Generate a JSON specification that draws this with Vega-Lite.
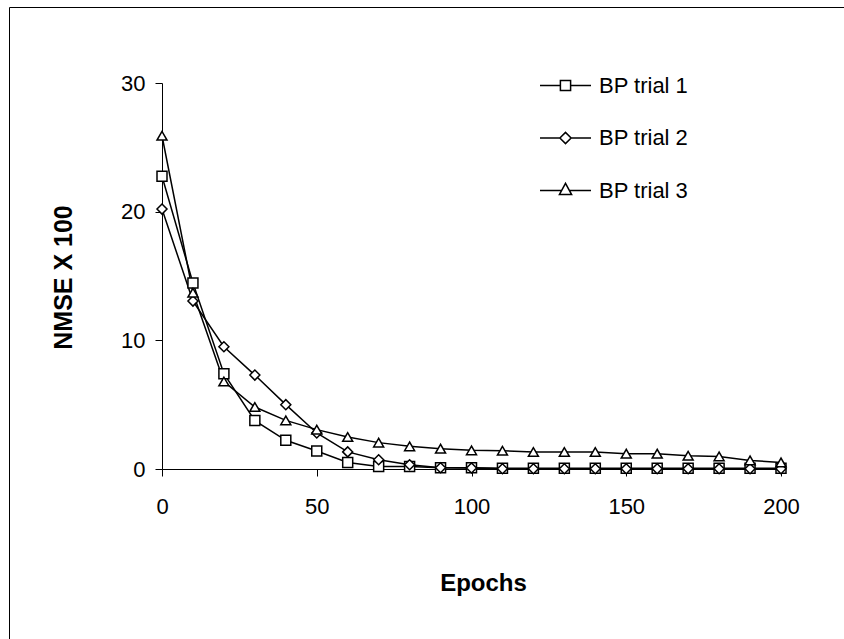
{
  "$schema": "https://vega.github.io/schema/vega-lite/v6.json",
  "width": 837,
  "height": 634,
  "autosize": {"type": "none"},
  "padding": {"left": 9, "top": 7, "right": -2, "bottom": -2},
  "background": "white",
  "config": {
    "font": "Liberation Sans",
    "view": {"stroke": "black", "strokeWidth": 1},
    "axis": {"grid": false, "domainColor": "black", "tickColor": "black", "labelColor": "black", "titleColor": "black", "domainWidth": 1, "tickWidth": 1, "labelFont": "Liberation Sans", "titleFont": "Liberation Sans"}
  },
  "data": {
    "values": [
      {"trial": "BP trial 1", "epoch": 0, "nmse": 22.75},
      {"trial": "BP trial 1", "epoch": 10, "nmse": 14.45},
      {"trial": "BP trial 1", "epoch": 20, "nmse": 7.4},
      {"trial": "BP trial 1", "epoch": 30, "nmse": 3.76},
      {"trial": "BP trial 1", "epoch": 40, "nmse": 2.23},
      {"trial": "BP trial 1", "epoch": 50, "nmse": 1.4},
      {"trial": "BP trial 1", "epoch": 60, "nmse": 0.51},
      {"trial": "BP trial 1", "epoch": 70, "nmse": 0.2},
      {"trial": "BP trial 1", "epoch": 80, "nmse": 0.2},
      {"trial": "BP trial 1", "epoch": 90, "nmse": 0.1},
      {"trial": "BP trial 1", "epoch": 100, "nmse": 0.1},
      {"trial": "BP trial 1", "epoch": 110, "nmse": 0.06},
      {"trial": "BP trial 1", "epoch": 120, "nmse": 0.06},
      {"trial": "BP trial 1", "epoch": 130, "nmse": 0.06},
      {"trial": "BP trial 1", "epoch": 140, "nmse": 0.06},
      {"trial": "BP trial 1", "epoch": 150, "nmse": 0.06},
      {"trial": "BP trial 1", "epoch": 160, "nmse": 0.06},
      {"trial": "BP trial 1", "epoch": 170, "nmse": 0.06},
      {"trial": "BP trial 1", "epoch": 180, "nmse": 0.06},
      {"trial": "BP trial 1", "epoch": 190, "nmse": 0.06},
      {"trial": "BP trial 1", "epoch": 200, "nmse": 0.06},
      {"trial": "BP trial 2", "epoch": 0, "nmse": 20.2},
      {"trial": "BP trial 2", "epoch": 10, "nmse": 13.05},
      {"trial": "BP trial 2", "epoch": 20, "nmse": 9.5},
      {"trial": "BP trial 2", "epoch": 30, "nmse": 7.3},
      {"trial": "BP trial 2", "epoch": 40, "nmse": 5.0},
      {"trial": "BP trial 2", "epoch": 50, "nmse": 2.8},
      {"trial": "BP trial 2", "epoch": 60, "nmse": 1.33},
      {"trial": "BP trial 2", "epoch": 70, "nmse": 0.72},
      {"trial": "BP trial 2", "epoch": 80, "nmse": 0.33},
      {"trial": "BP trial 2", "epoch": 90, "nmse": 0.1},
      {"trial": "BP trial 2", "epoch": 100, "nmse": 0.08},
      {"trial": "BP trial 2", "epoch": 110, "nmse": 0.02},
      {"trial": "BP trial 2", "epoch": 120, "nmse": 0.02},
      {"trial": "BP trial 2", "epoch": 130, "nmse": 0.02},
      {"trial": "BP trial 2", "epoch": 140, "nmse": 0.02},
      {"trial": "BP trial 2", "epoch": 150, "nmse": 0.02},
      {"trial": "BP trial 2", "epoch": 160, "nmse": 0.02},
      {"trial": "BP trial 2", "epoch": 170, "nmse": 0.02},
      {"trial": "BP trial 2", "epoch": 180, "nmse": 0.02},
      {"trial": "BP trial 2", "epoch": 190, "nmse": 0.02},
      {"trial": "BP trial 2", "epoch": 200, "nmse": 0.02},
      {"trial": "BP trial 3", "epoch": 0, "nmse": 25.9},
      {"trial": "BP trial 3", "epoch": 10, "nmse": 13.7},
      {"trial": "BP trial 3", "epoch": 20, "nmse": 6.8},
      {"trial": "BP trial 3", "epoch": 30, "nmse": 4.82},
      {"trial": "BP trial 3", "epoch": 40, "nmse": 3.78},
      {"trial": "BP trial 3", "epoch": 50, "nmse": 3.06},
      {"trial": "BP trial 3", "epoch": 60, "nmse": 2.49},
      {"trial": "BP trial 3", "epoch": 70, "nmse": 2.05},
      {"trial": "BP trial 3", "epoch": 80, "nmse": 1.76},
      {"trial": "BP trial 3", "epoch": 90, "nmse": 1.58},
      {"trial": "BP trial 3", "epoch": 100, "nmse": 1.45},
      {"trial": "BP trial 3", "epoch": 110, "nmse": 1.42},
      {"trial": "BP trial 3", "epoch": 120, "nmse": 1.32},
      {"trial": "BP trial 3", "epoch": 130, "nmse": 1.32},
      {"trial": "BP trial 3", "epoch": 140, "nmse": 1.32},
      {"trial": "BP trial 3", "epoch": 150, "nmse": 1.19},
      {"trial": "BP trial 3", "epoch": 160, "nmse": 1.19},
      {"trial": "BP trial 3", "epoch": 170, "nmse": 1.03},
      {"trial": "BP trial 3", "epoch": 180, "nmse": 0.98},
      {"trial": "BP trial 3", "epoch": 190, "nmse": 0.67},
      {"trial": "BP trial 3", "epoch": 200, "nmse": 0.51}
    ]
  },
  "encoding": {
    "x": {
      "field": "epoch",
      "type": "quantitative",
      "scale": {"domain": [0, 200], "range": [153, 772], "nice": false, "zero": false},
      "axis": {
        "orient": "bottom",
        "offset": -172,
        "values": [0, 50, 100, 150, 200],
        "tickSize": 7,
        "labelPadding": 20,
        "labelFontSize": 22,
        "labelFlush": false,
        "title": "Epochs",
        "titleFontSize": 24,
        "titleFontWeight": "bold",
        "titleX": 474,
        "titleY": 114,
        "titleBaseline": "middle",
        "titleAlign": "center"
      }
    },
    "y": {
      "field": "nmse",
      "type": "quantitative",
      "scale": {"domain": [0, 30], "range": [462, 76], "nice": false, "zero": false},
      "axis": {
        "orient": "left",
        "offset": -153,
        "values": [0, 10, 20, 30],
        "tickSize": 7,
        "labelPadding": 10,
        "labelFontSize": 22,
        "labelFlush": false,
        "title": "NMSE X 100",
        "titleFontSize": 25,
        "titleFontWeight": "bold",
        "titleAngle": -90,
        "titleX": -99,
        "titleY": 270,
        "titleBaseline": "middle",
        "titleAlign": "center"
      }
    }
  },
  "layer": [
    {
      "mark": {"type": "line", "color": "black", "strokeWidth": 1.5},
      "encoding": {"detail": {"field": "trial", "type": "nominal"}}
    },
    {
      "mark": {"type": "point", "filled": false, "fill": "white", "fillOpacity": 1, "stroke": "black", "strokeWidth": 1.5, "size": 100, "opacity": 1},
      "encoding": {
        "shape": {
          "field": "trial",
          "type": "nominal",
          "scale": {"domain": ["BP trial 1", "BP trial 2", "BP trial 3"], "range": ["square", "diamond", "triangle-up"]},
          "legend": null
        }
      }
    },
    {
      "transform": [{"filter": "datum.epoch < 0"}],
      "mark": {"type": "point", "filled": false, "stroke": "black", "strokeWidth": 1.5, "size": 2601},
      "encoding": {
        "shape": {
          "field": "trial",
          "type": "nominal",
          "scale": {
            "domain": ["BP trial 1", "BP trial 2", "BP trial 3"],
            "range": [
              "M-1,0H-0.2M0.2,0H1M-0.2,-0.2H0.2V0.2H-0.2Z",
              "M-1,0H-0.22M0.22,0H1M-0.22,0L0,-0.22L0.22,0L0,0.22Z",
              "M-1,0H-0.153M0.153,0H1M-0.24,0.16L0,-0.28L0.24,0.16Z"
            ]
          },
          "legend": {
            "orient": "none",
            "legendX": 530,
            "legendY": 52,
            "title": null,
            "padding": 0,
            "labelFontSize": 22,
            "labelFont": "Liberation Sans",
            "labelColor": "black",
            "labelOffset": 7,
            "symbolSize": 2601,
            "symbolStrokeWidth": 1.5,
            "symbolStrokeColor": "black",
            "symbolFillColor": "white",
            "symbolOpacity": 1,
            "rowPadding": 14.5
          }
        }
      }
    }
  ],
  "resolve": {"scale": {"shape": "independent"}, "legend": {"shape": "independent"}}
}
